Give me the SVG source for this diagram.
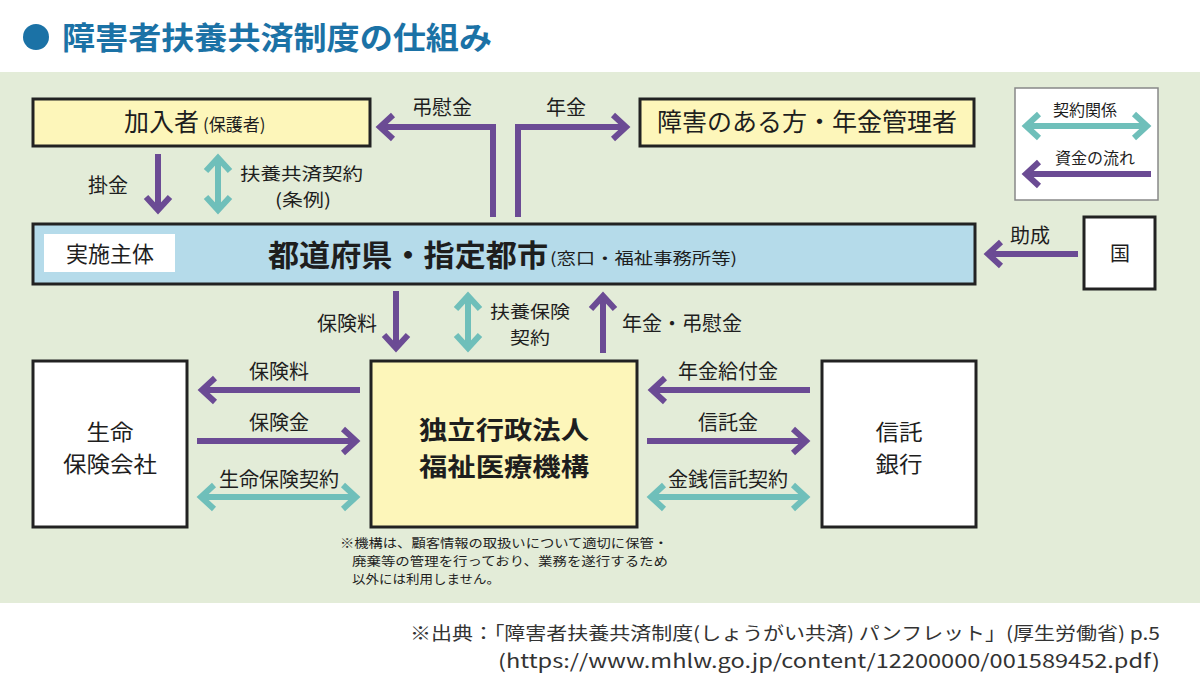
<svg xmlns="http://www.w3.org/2000/svg" width="1200" height="680" viewBox="0 0 1200 680">
<style>
text{font-family:"Noto Sans CJK JP","Noto Sans",sans-serif;fill:#1e1e1e}
.box{stroke:#222;stroke-width:3}
.y{fill:#fdf6ba}
.w{fill:#fff}
.p{fill:none;stroke:#6b4b94;stroke-width:6}
.t{fill:none;stroke:#6fbfba;stroke-width:6}
.lbl{font-size:20px}
.c{text-anchor:middle}
</style>
<defs>
<marker id="hp" viewBox="-18 -18 26 36" markerWidth="26" markerHeight="36" refX="0" refY="0" orient="auto-start-reverse" markerUnits="userSpaceOnUse" overflow="visible"><path d="M-13,-12 L0,0 L-13,12" fill="none" stroke="#6b4b94" stroke-width="6"/></marker>
<marker id="ht" viewBox="-18 -18 26 36" markerWidth="26" markerHeight="36" refX="0" refY="0" orient="auto-start-reverse" markerUnits="userSpaceOnUse" overflow="visible"><path d="M-13,-12 L0,0 L-13,12" fill="none" stroke="#6fbfba" stroke-width="6"/></marker>
</defs>
<rect x="0" y="0" width="1200" height="680" fill="#fff"/>
<rect x="0" y="72" width="1200" height="531" fill="#e3ecd8"/>
<g id="title">
<circle cx="36" cy="37" r="13" fill="#1b72a6"/>
<text x="62" y="49" font-size="31" font-weight="bold" style="fill:#1b72a6" textLength="430" lengthAdjust="spacingAndGlyphs">障害者扶養共済制度の仕組み</text>
</g>
<g id="connectors">
<path class="p" d="M158,154 V210" marker-end="url(#hp)"/>
<path class="t" d="M218,158 V210" marker-start="url(#ht)" marker-end="url(#ht)"/>
<path class="p" d="M493,217 V127 H380" marker-end="url(#hp)"/>
<path class="p" d="M518,217 V127 H626" marker-end="url(#hp)"/>
<path class="p" d="M1078,254 H988" marker-end="url(#hp)"/>
<path class="p" d="M396,291 V348" marker-end="url(#hp)"/>
<path class="t" d="M468,296 V348" marker-start="url(#ht)" marker-end="url(#ht)"/>
<path class="p" d="M603,353 V296" marker-end="url(#hp)"/>
<path class="p" d="M360,390 H202" marker-end="url(#hp)"/>
<path class="p" d="M197,441 H356" marker-end="url(#hp)"/>
<path class="t" d="M201,497 H356" marker-start="url(#ht)" marker-end="url(#ht)"/>
<path class="p" d="M810,390 H652" marker-end="url(#hp)"/>
<path class="p" d="M647,441 H806" marker-end="url(#hp)"/>
<path class="t" d="M651,497 H806" marker-start="url(#ht)" marker-end="url(#ht)"/>
<text class="lbl" x="108" y="193" text-anchor="middle">掛金</text>
<text x="240" y="180" font-size="17.5" textLength="123" lengthAdjust="spacingAndGlyphs">扶養共済契約</text>
<text x="275" y="206" font-size="17.5" textLength="56" lengthAdjust="spacingAndGlyphs">(条例)</text>
<text class="lbl" x="442" y="115" text-anchor="middle">弔慰金</text>
<text class="lbl" x="566" y="115" text-anchor="middle">年金</text>
<text class="lbl" x="1030" y="243" text-anchor="middle">助成</text>
<text class="lbl" x="377" y="331" text-anchor="end">保険料</text>
<text x="490" y="318" font-size="17.5" textLength="80" lengthAdjust="spacingAndGlyphs">扶養保険</text>
<text x="510" y="344" font-size="17.5" textLength="40" lengthAdjust="spacingAndGlyphs">契約</text>
<text class="lbl" x="622" y="331">年金・弔慰金</text>
<text class="lbl c" x="279" y="379">保険料</text>
<text class="lbl c" x="279" y="430">保険金</text>
<text class="lbl c" x="279" y="487">生命保険契約</text>
<text class="lbl c" x="728" y="379">年金給付金</text>
<text class="lbl c" x="728" y="430">信託金</text>
<text class="lbl c" x="728" y="487">金銭信託契約</text>
</g>
<g id="kanyusha">
<rect class="box y" x="33" y="99" width="337" height="47"/>
<text x="124" y="131" font-size="25">加入者<tspan font-size="17" dx="4">(保護者)</tspan></text>
</g>
<g id="shogai">
<rect class="box y" x="640" y="99" width="334" height="47"/>
<text class="c" x="807" y="131" font-size="25">障害のある方・年金管理者</text>
</g>
<g id="legend">
<rect x="1015" y="88" width="143" height="112" fill="#fff" stroke="#888" stroke-width="1.5"/>
<path class="t" d="M1026,126 H1147" marker-start="url(#ht)" marker-end="url(#ht)"/>
<path class="p" d="M1151,174 H1026" marker-end="url(#hp)"/>
<text class="c" x="1085" y="116" font-size="16">契約関係</text>
<text class="c" x="1095" y="164" font-size="16">資金の流れ</text>
</g>
<g id="todofuken">
<rect class="box" x="33" y="224" width="942" height="60" fill="#b5dbea"/>
<rect x="44" y="234" width="131" height="38" fill="#fff"/>
<text class="c" x="110" y="262" font-size="22">実施主体</text>
<text x="268" y="266" font-size="30" font-weight="bold" textLength="280" lengthAdjust="spacingAndGlyphs">都道府県・指定都市</text>
<text x="550" y="264" font-size="16" textLength="187" lengthAdjust="spacingAndGlyphs">(窓口・福祉事務所等)</text>
</g>
<g id="kuni">
<rect class="box w" x="1084" y="217" width="71" height="72"/>
<text class="c" x="1120" y="261" font-size="20">国</text>
</g>
<g id="seimei">
<rect class="box w" x="33" y="361" width="154" height="166"/>
<text class="c" x="110" y="440" font-size="21.5" textLength="47" lengthAdjust="spacingAndGlyphs">生命</text>
<text class="c" x="110" y="472" font-size="21.5" textLength="94" lengthAdjust="spacingAndGlyphs">保険会社</text>
</g>
<g id="kiko">
<rect class="box y" x="371" y="361" width="266" height="166"/>
<text class="c" x="504" y="439" font-size="25" font-weight="bold" textLength="170" lengthAdjust="spacingAndGlyphs">独立行政法人</text>
<text class="c" x="504" y="476" font-size="25" font-weight="bold" textLength="170" lengthAdjust="spacingAndGlyphs">福祉医療機構</text>
</g>
<g id="shintaku">
<rect class="box w" x="822" y="361" width="154" height="166"/>
<text class="c" x="899" y="440" font-size="21.5" textLength="47" lengthAdjust="spacingAndGlyphs">信託</text>
<text class="c" x="899" y="472" font-size="21.5" textLength="47" lengthAdjust="spacingAndGlyphs">銀行</text>
</g>
<g id="note">
<text x="340" y="548" font-size="12.3" textLength="328" lengthAdjust="spacingAndGlyphs">※機構は、顧客情報の取扱いについて適切に保管・</text>
<text x="352" y="566" font-size="12.3" textLength="316" lengthAdjust="spacingAndGlyphs">廃棄等の管理を行っており、業務を遂行するため</text>
<text x="352" y="584" font-size="12.3" textLength="148" lengthAdjust="spacingAndGlyphs">以外には利用しません。</text>
</g>
<g id="source">
<text x="1160" y="640" font-size="18" text-anchor="end" style="fill:#333" textLength="750" lengthAdjust="spacingAndGlyphs">※出典：「障害者扶養共済制度(しょうがい共済) パンフレット」(厚生労働省) p.5</text>
<text x="1160" y="668" font-size="19" text-anchor="end" style="fill:#333" textLength="662" lengthAdjust="spacingAndGlyphs">(https://www.mhlw.go.jp/content/12200000/001589452.pdf)</text>
</g>
</svg>
